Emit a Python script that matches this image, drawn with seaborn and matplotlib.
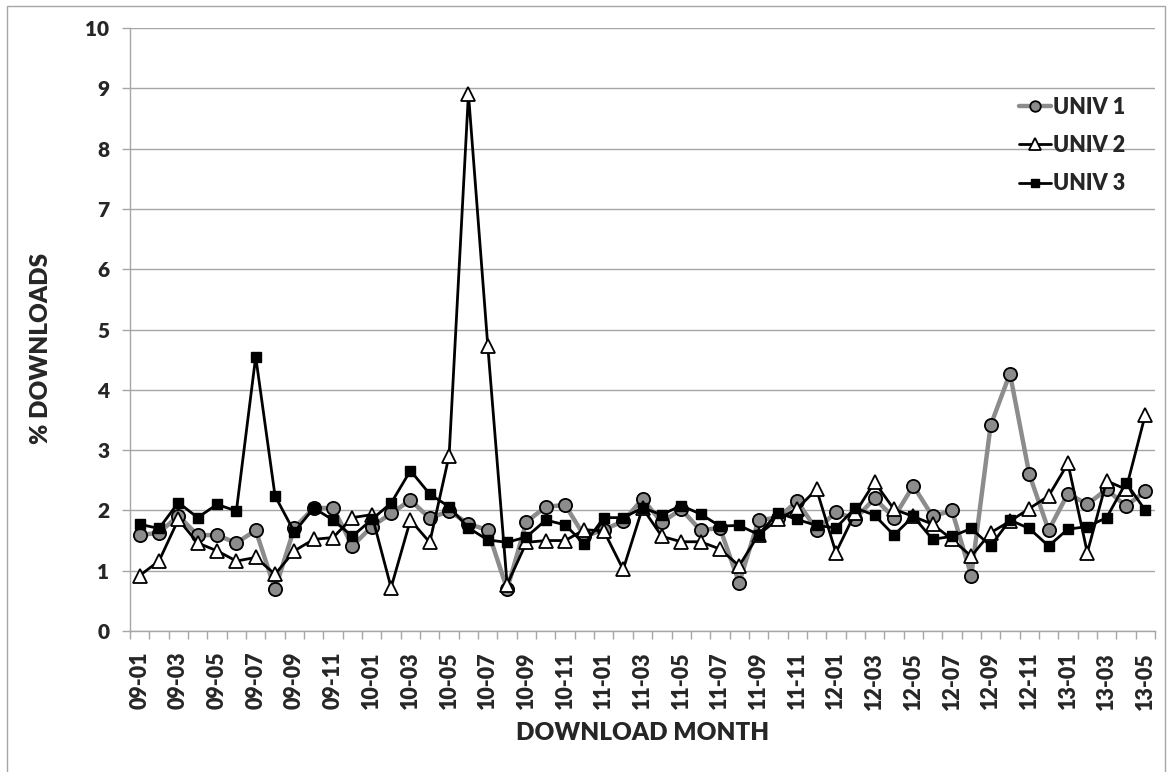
import numpy as np
import pandas as pd
import matplotlib
matplotlib.use("Agg")
import matplotlib.pyplot as plt
import seaborn as sns

# months 2009-01 .. 2013-05
months = [f"{y:02d}-{m:02d}" for y in range(9, 14) for m in range(1, 13)][:53]

univ1 = [1.59, 1.63, 1.91, 1.59, 1.59, 1.46, 1.67, 0.69, 1.71, 2.04, 2.04, 1.41,
         1.73, 1.95, 2.17, 1.87, 1.99, 1.78, 1.67, 0.69, 1.81, 2.06, 2.09, 1.57,
         1.68, 1.82, 2.19, 1.80, 2.02, 1.67, 1.71, 0.80, 1.84, 1.88, 2.15, 1.68,
         1.97, 1.86, 2.20, 1.88, 2.41, 1.90, 2.00, 0.92, 3.41, 4.27, 2.60, 1.67,
         2.28, 2.10, 2.35, 2.07, 2.32]
univ2 = [0.92, 1.16, 1.85, 1.46, 1.33, 1.16, 1.22, 0.94, 1.33, 1.52, 1.55, 1.88,
         1.93, 0.72, 1.84, 1.47, 2.91, 8.91, 4.73, 0.77, 1.47, 1.50, 1.50, 1.68,
         1.66, 1.02, 2.04, 1.57, 1.48, 1.48, 1.36, 1.08, 1.60, 1.85, 2.03, 2.35,
         1.30, 1.96, 2.47, 2.02, 1.90, 1.77, 1.52, 1.24, 1.63, 1.82, 2.03, 2.24,
         2.78, 1.30, 2.49, 2.35, 3.59]
univ3 = [1.77, 1.70, 2.13, 1.88, 2.10, 1.99, 4.55, 2.24, 1.64, 2.04, 1.84, 1.57,
         1.85, 2.12, 2.66, 2.27, 2.06, 1.71, 1.51, 1.47, 1.56, 1.84, 1.76, 1.44,
         1.88, 1.88, 2.04, 1.93, 2.08, 1.94, 1.74, 1.75, 1.60, 1.96, 1.85, 1.75,
         1.71, 2.04, 1.92, 1.59, 1.90, 1.52, 1.57, 1.70, 1.41, 1.84, 1.70, 1.41,
         1.69, 1.73, 1.88, 2.46, 2.00]

df = pd.DataFrame({"pos": np.arange(len(months)), "month": months,
                   "UNIV 1": univ1, "UNIV 2": univ2, "UNIV 3": univ3})

sns.set_style("white")
plt.rcParams["font.family"] = ["Lato", "DejaVu Sans"]
plt.rcParams["font.weight"] = "heavy"
WT = "heavy"

W, H = 1169, 772
fig = plt.figure(figsize=(W / 100, H / 100), dpi=100)
ax = fig.add_axes([130 / W, 1 - 631 / H, (1155 - 130) / W, (631 - 28) / H])

sns.lineplot(data=df, x="pos", y="UNIV 1", ax=ax, color="#8c8c8c", lw=3.2,
             marker="o", markersize=9.5, markerfacecolor="#8c8c8c",
             markeredgecolor="black", markeredgewidth=1.3, label="UNIV 1")
sns.lineplot(data=df, x="pos", y="UNIV 2", ax=ax, color="black", lw=2,
             marker="^", markersize=10, markerfacecolor="white",
             markeredgecolor="black", markeredgewidth=1.3, label="UNIV 2")
sns.lineplot(data=df, x="pos", y="UNIV 3", ax=ax, color="black", lw=2,
             marker="s", markersize=7, markerfacecolor="black",
             markeredgecolor="black", markeredgewidth=1, label="UNIV 3")

ax.set_xlim(-0.5, len(months) - 0.5)
ax.set_ylim(0, 10)
ax.set_yticks(range(0, 11))
ax.set_xticks(df["pos"][::2])
ax.set_xticklabels(df["month"][::2], rotation=90)
ax.set_xticks(np.arange(-0.5, len(months), 1), minor=True)

ax.grid(axis="y", color="#a6a6a6", lw=1)
ax.set_axisbelow(True)
for s in ["top", "right"]:
    ax.spines[s].set_visible(False)
for s in ["left", "bottom"]:
    ax.spines[s].set_color("#a6a6a6")
    ax.spines[s].set_linewidth(1)

ax.tick_params(axis="y", length=6, width=1, color="#a6a6a6", pad=9,
               labelsize=15, left=True, direction="out")
ax.tick_params(axis="x", which="major", length=0, pad=15, labelsize=15.5)
ax.tick_params(axis="x", which="minor", length=6, width=1, color="#a6a6a6",
               bottom=True, direction="out")
for t in ax.get_xticklabels() + ax.get_yticklabels():
    t.set_fontweight(WT)

ax.set_xlabel("DOWNLOAD MONTH", fontsize=17.5, fontweight=WT)
ax.set_ylabel("% DOWNLOADS", fontsize=17.5, fontweight=WT)
ax.xaxis.set_label_coords(0.5, (631 - 722) / 603)
ax.yaxis.set_label_coords((52 - 130) / 1025, (631 - 348) / 603)

leg = ax.legend(loc="upper left", bbox_to_anchor=(1010 / W, 1 - 88 / H),
                bbox_transform=fig.transFigure, frameon=False,
                prop={"size": 15.5, "weight": WT}, handlelength=1.5,
                handletextpad=0.1, labelspacing=0.8, borderaxespad=0,
                markerscale=0.8)

# chart border
fig.add_artist(plt.Rectangle((7 / W, -0.01), (1165 - 7) / W, 1 - 6 / H + 0.01,
                             transform=fig.transFigure, fill=False,
                             edgecolor="#a6a6a6", lw=1))

fig.savefig("out.png", dpi=100)
